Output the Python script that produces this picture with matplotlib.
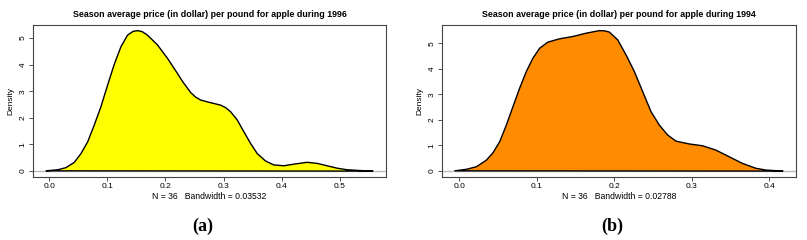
import matplotlib
matplotlib.use("Agg")
import matplotlib.pyplot as plt

plt.rcParams['font.family'] = ['Liberation Sans', 'DejaVu Sans']

# Panel (a): density curve for 1996
x_1996 = [-0.0057, 0.0144, 0.0287, 0.043, 0.0545, 0.066, 0.0773, 0.0888, 0.1003, 0.1117,
          0.1232, 0.1347, 0.1440, 0.1519, 0.1600, 0.169, 0.1863, 0.2034, 0.2206, 0.2300,
          0.2435, 0.2520, 0.2606, 0.2778, 0.2950, 0.3040, 0.3122, 0.3237, 0.335, 0.3466,
          0.358, 0.3723, 0.3866, 0.4038, 0.421, 0.444, 0.4612, 0.4784, 0.4955, 0.5127,
          0.5356, 0.5574]
d_1996 = [0.01, 0.05, 0.13, 0.33, 0.66, 1.10, 1.73, 2.42, 3.23, 4.01,
          4.67, 5.11, 5.25, 5.28, 5.24, 5.11, 4.74, 4.24, 3.67, 3.35,
          2.95, 2.78, 2.67, 2.57, 2.48, 2.38, 2.23, 1.92, 1.48, 1.04,
          0.66, 0.38, 0.23, 0.20, 0.26, 0.33, 0.29, 0.20, 0.11, 0.05,
          0.02, 0.0]

# Panel (b): density curve for 1994
x_1994 = [-0.0055, 0.0095, 0.0224, 0.0353, 0.0438, 0.0524, 0.061, 0.0695, 0.0781, 0.0867,
          0.0952, 0.1039, 0.1145, 0.1296, 0.1467, 0.164, 0.1811, 0.1880, 0.194, 0.2046,
          0.2154, 0.2261, 0.2368, 0.2476, 0.2583, 0.269, 0.2798, 0.2969, 0.314, 0.3313,
          0.3484, 0.3655, 0.3827, 0.3956, 0.4177]
d_1994 = [0.01, 0.07, 0.17, 0.43, 0.72, 1.15, 1.80, 2.52, 3.24, 3.89,
          4.41, 4.80, 5.04, 5.17, 5.26, 5.39, 5.49, 5.48, 5.43, 5.13,
          4.54, 3.89, 3.11, 2.32, 1.80, 1.41, 1.17, 1.06, 0.99, 0.82,
          0.56, 0.30, 0.11, 0.04, 0.0]

titles = ["Season average price (in dollar) per pound for apple during 1996",
          "Season average price (in dollar) per pound for apple during 1994"]
xlabels = ["N = 36   Bandwidth = 0.03532", "N = 36   Bandwidth = 0.02788"]
xticks_list = [[0.0, 0.1, 0.2, 0.3, 0.4, 0.5], [0.0, 0.1, 0.2, 0.3, 0.4]]
yticks = [0, 1, 2, 3, 4, 5]
colors = ["#FFFF00", "#FF8C00"]
panel_labels = ["(a)", "(b)"]

fig = plt.figure(figsize=(8.07, 2.40), dpi=100)
W, H = 807, 240
boxes = [(33, 25, 386, 176.7), (441.7, 25, 796, 176.7)]
xs = [x_1996, x_1994]
ds = [d_1996, d_1994]
label_x = [202.7, 612]

for i in range(2):
    l, t, r, b = boxes[i]
    ax = fig.add_axes([l / W, 1 - b / H, (r - l) / W, (b - t) / H])
    x, d = xs[i], ds[i]
    xr = max(x) - min(x)
    ax.set_xlim(min(x) - 0.04 * xr, max(x) + 0.04 * xr)
    ax.set_ylim(-0.04 * max(d), max(d) * 1.04)
    ax.axhline(0, color="#bbbbbb", lw=1.0, zorder=1)
    ax.fill(x, d, facecolor=colors[i], edgecolor="black", lw=1.0, zorder=2,
            joinstyle="round")
    ax.set_xticks(xticks_list[i])
    ax.set_xticklabels([f"{v:.1f}" for v in xticks_list[i]])
    ax.set_yticks(yticks)
    ax.set_yticklabels([str(v) for v in yticks], rotation=90, va="center")
    ax.tick_params(axis="both", labelsize=6.0, length=3, width=0.6, color="#333333", pad=1.5)
    for s in ax.spines.values():
        s.set_color("#444444")
        s.set_linewidth(0.8)
    ax.set_title(titles[i], fontsize=6.4, fontweight="bold", pad=6)
    ax.set_xlabel(xlabels[i], fontsize=6.2, labelpad=1.5)
    ax.set_ylabel("Density", fontsize=6.0)
    ax.yaxis.set_label_coords(-0.052, 0.5)
    fig.text(label_x[i] / W, 1 - 226 / H, panel_labels[i], fontsize=13, fontweight="bold",
             family=["Liberation Serif", "DejaVu Serif"], ha="center", va="center")

fig.savefig("out.png", dpi=100)
